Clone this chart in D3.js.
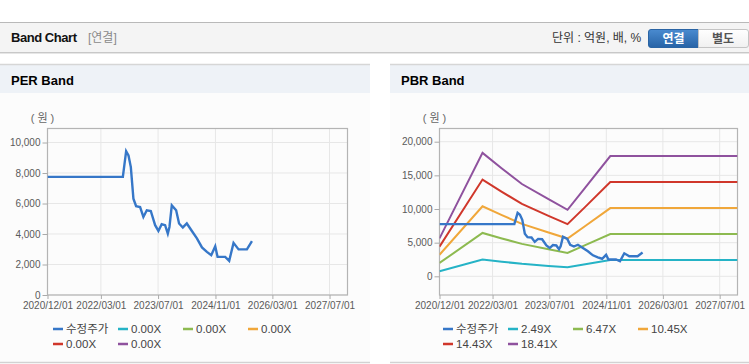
<!DOCTYPE html>
<html><head><meta charset="utf-8">
<script src="https://cdn.jsdelivr.net/npm/d3@7"></script>
<style>
body{margin:0;background:#fff;}
svg{display:block;font-family:"Liberation Sans","Noto Sans CJK KR",sans-serif;}
</style></head><body><svg id="c" width="749" height="364"></svg>
<script>
// ---- data ----
const priceDates = ["2020-12-01","2022-09-04","2022-10-02","2022-10-22","2022-11-11","2022-12-03","2022-12-26","2023-01-29","2023-02-26","2023-03-27","2023-04-30","2023-06-06","2023-07-04","2023-08-01","2023-08-30","2023-09-22","2023-10-06","2023-10-26","2023-12-02","2023-12-27","2024-01-28","2024-03-02","2024-04-14","2024-05-27","2024-07-09","2024-08-20","2024-09-26","2024-10-30","2024-11-19","2025-01-23","2025-02-26","2025-04-04","2025-05-17","2025-07-27","2025-09-08"];
const priceValues = [7750,7750,9430,9150,8390,6320,5820,5770,5120,5560,5510,4580,4200,4640,4580,4030,4460,5880,5560,4690,4430,4690,4200,3710,3120,2830,2610,3200,2500,2500,2240,3420,2990,2990,3530];

const bandDates = ["2020-12-01","2021-12-05","2022-05-20","2022-11-08","2023-06-24","2023-12-04","2024-05-04","2024-12-05","2027-12-01"];
const band1 = [762,2480,2166,1855,1551,1337,1780,2415,2415];
const band2 = [1980,6444,5629,4820,4031,3474,4626,6276,6276];
const band3 = [3198,10408,9092,7785,6510,5612,7472,10137,10137];
const band4 = [4416,14372,12554,10750,8990,7749,10317,13997,13997];
const band5 = [5633,18336,16017,13715,11469,9886,13163,17858,17858];

const perLegend = ["수정주가","0.00X","0.00X","0.00X","0.00X","0.00X"];
const pbrLegend = ["수정주가","2.49X","6.47X","10.45X","14.43X","18.41X"];
const seriesColors = ["#3677c8","#25b3c6","#8dba50","#f0a73a","#d0372b","#8f529e"];
const perTicks = [0,2000,4000,6000,8000,10000];
const pbrTicks = [0,5000,10000,15000,20000];
const xTickLabels = ["2020/12/01","2022/03/01","2023/07/01","2024/11/01","2026/03/01","2027/07/01"];
const xDomain = ["2020-12-01","2027-12-01"];

// ---- drawing ----
const parse = d3.timeParse("%Y-%m-%d");
const parseTick = d3.timeParse("%Y/%m/%d");
const svg = d3.select("#c");

// top header bar
const defs = svg.append("defs");
const gb = defs.append("linearGradient").attr("id","btn").attr("x1",0).attr("x2",0).attr("y1",0).attr("y2",1);
gb.append("stop").attr("offset","0%").attr("stop-color","#4a8bd0");
gb.append("stop").attr("offset","100%").attr("stop-color","#2763a6");
const gw = defs.append("linearGradient").attr("id","btnw").attr("x1",0).attr("x2",0).attr("y1",0).attr("y2",1);
gw.append("stop").attr("offset","0%").attr("stop-color","#ffffff");
gw.append("stop").attr("offset","100%").attr("stop-color","#f0f0f0");

svg.append("rect").attr("x",0).attr("y",22).attr("width",749).attr("height",31).attr("fill","#f4f4f4");
svg.append("line").attr("x1",0).attr("x2",749).attr("y1",22.5).attr("y2",22.5).attr("stroke","#b9b9b9");
svg.append("line").attr("x1",0).attr("x2",749).attr("y1",52.5).attr("y2",52.5).attr("stroke","#c8c8c8");
svg.append("line").attr("x1",0).attr("x2",749).attr("y1",53.5).attr("y2",53.5).attr("stroke","#e6e6e6");
svg.append("text").attr("x",11).attr("y",42).attr("font-size",13).attr("font-weight","bold").attr("fill","#111").attr("textLength",66).text("Band Chart");
svg.append("text").attr("x",88).attr("y",42).attr("font-size",12).attr("fill","#8a8a8a").text("[연결]");
svg.append("text").attr("x",552).attr("y",42).attr("font-size",12).attr("fill","#333").text("단위 : 억원, 배, %");
svg.append("path").attr("d","M651,29.5 H698.5 V47.5 H651 Q648.5,47.5 648.5,45 V32 Q648.5,29.5 651,29.5 Z").attr("fill","url(#btn)").attr("stroke","#2a64a4");
svg.append("path").attr("d","M698.5,29.5 H746 Q748.5,29.5 748.5,32 V45 Q748.5,47.5 746,47.5 H698.5 Z").attr("fill","url(#btnw)").attr("stroke","#c4c4c4");
svg.append("text").attr("x",673.5).attr("y",43).attr("text-anchor","middle").attr("font-size",12).attr("font-weight","bold").attr("fill","#fff").text("연결");
svg.append("text").attr("x",723).attr("y",43).attr("text-anchor","middle").attr("font-size",12).attr("font-weight","bold").attr("fill","#555").text("별도");

function panel(opt){
  const g = svg.append("g");
  // panel body
  g.append("rect").attr("x",opt.px).attr("y",64).attr("width",opt.pw).attr("height",299).attr("fill","#fcfcfc");
  g.append("rect").attr("x",opt.px).attr("y",64).attr("width",opt.pw).attr("height",29).attr("fill","#eef2f7");
  g.append("line").attr("x1",opt.px).attr("x2",opt.px+opt.pw).attr("y1",64.5).attr("y2",64.5).attr("stroke","#d6d6d6").attr("stroke-width",1.5);
  g.append("line").attr("x1",opt.px).attr("x2",opt.px+opt.pw).attr("y1",362.5).attr("y2",362.5).attr("stroke","#d2d2d2").attr("stroke-width",1.5);
  g.append("text").attr("x",opt.px+11).attr("y",85).attr("font-size",13).attr("font-weight","bold").attr("fill","#000").text(opt.title);

  const x = d3.scaleTime().domain(xDomain.map(parse)).range([opt.l, opt.r]);
  const y = d3.scaleLinear().domain(opt.yDomain).range([opt.b, opt.t]);

  // grid
  const xt = xTickLabels.map(parseTick);
  g.append("g").selectAll("line").data(xt).join("line")
    .attr("x1",d=>x(d)).attr("x2",d=>x(d)).attr("y1",opt.t).attr("y2",opt.b)
    .attr("stroke","#e7e7e7");
  g.append("g").selectAll("line").data(opt.yTicks).join("line")
    .attr("x1",opt.l).attr("x2",opt.r).attr("y1",d=>y(d)).attr("y2",d=>y(d))
    .attr("stroke","#e7e7e7");
  g.append("rect").attr("x",opt.l).attr("y",opt.t).attr("width",opt.r-opt.l).attr("height",opt.b-opt.t)
    .attr("fill","none").attr("stroke","#b4b4b4").attr("stroke-width",1.2);

  // axes
  const xa = g.append("g").attr("transform",`translate(0,${opt.b})`)
    .call(d3.axisBottom(x).tickValues(xt).tickFormat(d3.timeFormat("%Y/%m/%d")).tickSize(4).tickPadding(3));
  const ya = g.append("g").attr("transform",`translate(${opt.l},0)`)
    .call(d3.axisLeft(y).tickValues(opt.yTicks).tickFormat(d3.format(",")).tickSize(5).tickPadding(2));
  [xa,ya].forEach(a=>{
    a.select(".domain").remove();
    a.selectAll("line").attr("stroke","#aaa");
    a.selectAll("text").attr("fill","#5a5a5a").attr("font-size",10).attr("font-family","Liberation Sans, sans-serif");
  });
  g.append("text").attr("x",opt.l-5).attr("y",122).attr("text-anchor","middle").attr("font-size",11).attr("fill","#666").text("( 원 )");

  // lines
  const clip = "clip"+opt.px;
  defs.append("clipPath").attr("id",clip).append("rect").attr("x",opt.l).attr("y",opt.t).attr("width",opt.r-opt.l).attr("height",opt.b-opt.t);
  const lg = g.append("g").attr("clip-path",`url(#${clip})`);
  const line = d3.line().x(d=>x(d[0])).y(d=>y(d[1]));
  if(opt.bands){
    opt.bands.forEach((vals,i)=>{
      lg.append("path").datum(bandDates.map((d,k)=>[parse(d),vals[k]]))
        .attr("d",line).attr("fill","none").attr("stroke",seriesColors[i+1]).attr("stroke-width",2);
    });
  }
  lg.append("path").datum(priceDates.map((d,k)=>[parse(d),priceValues[k]]))
    .attr("d",line).attr("fill","none").attr("stroke",seriesColors[0]).attr("stroke-width",2.4);

  // legend
  opt.legend.forEach((name,i)=>{
    const lx = opt.px + 53 + (i%4)*65;
    const ly = 329 + Math.floor(i/4)*15;
    g.append("line").attr("x1",lx).attr("x2",lx+10).attr("y1",ly).attr("y2",ly)
      .attr("stroke",seriesColors[i]).attr("stroke-width",2.5);
    g.append("text").attr("x",lx+13).attr("y",ly+4).attr("font-size",11.5).attr("fill","#444").text(name);
  });
}

panel({px:0,pw:370,title:"PER Band",l:47.5,r:347.5,t:128.5,b:295,yDomain:[0,10920],yTicks:perTicks,legend:perLegend,bands:null});
panel({px:390,pw:359,title:"PBR Band",l:439.5,r:737.5,t:128.5,b:295,yDomain:[-2775,21960],yTicks:pbrTicks,legend:pbrLegend,bands:[band1,band2,band3,band4,band5]});
</script></body></html>
